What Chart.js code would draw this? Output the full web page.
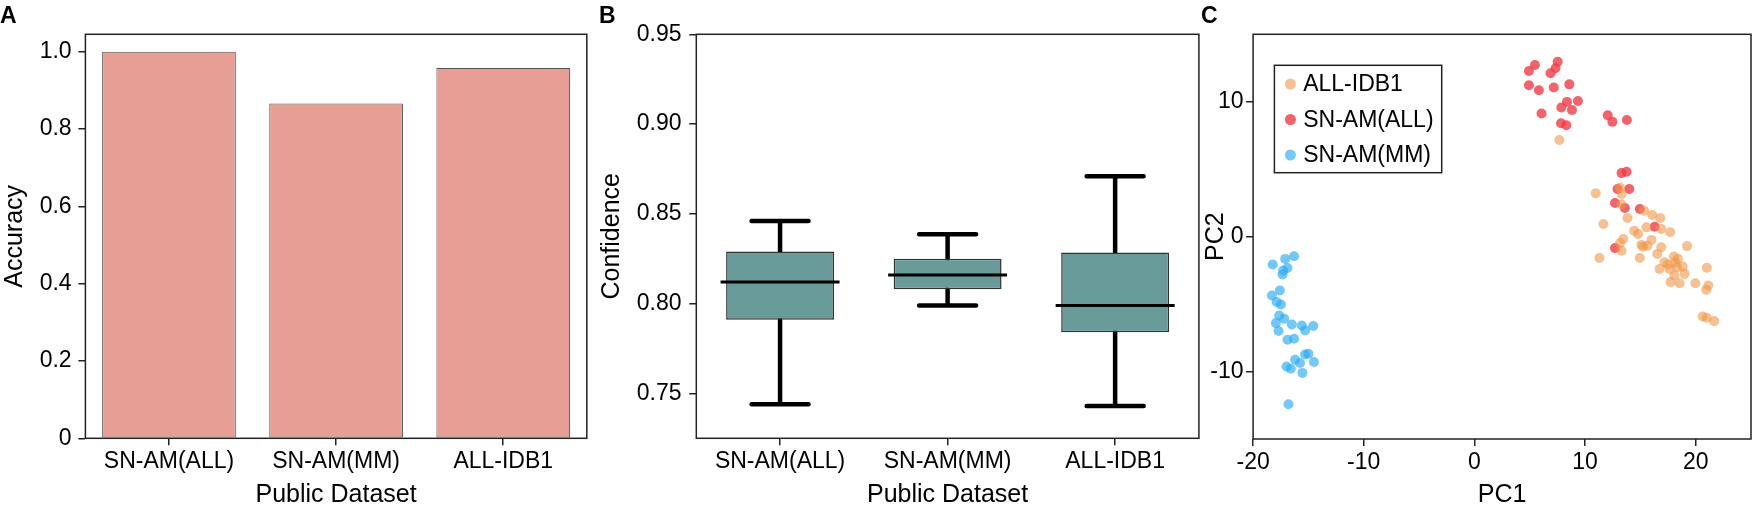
<!DOCTYPE html>
<html>
<head>
<meta charset="utf-8">
<script src="https://cdn.jsdelivr.net/npm/chart.js@4.4.0/dist/chart.umd.min.js"></script>
<style>
  html, body { margin: 0; padding: 0; background: #fff; overflow: hidden; }
  body { width: 1756px; height: 506px; position: relative; }
  canvas { position: absolute; top: 0; }
  .tag { position: absolute; top: 4px; z-index: 2; font: bold 23px/23px "Liberation Sans", Arial, sans-serif; color: #000; }
</style>
</head>
<body>
<canvas id="accuracy" width="596" height="506" style="left:0"></canvas>
<canvas id="confidence" width="605" height="506" style="left:596px"></canvas>
<canvas id="pca" width="556" height="506" style="left:1200px"></canvas>
<div class="tag" style="left:0">A</div>
<div class="tag" style="left:599px">B</div>
<div class="tag" style="left:1201px">C</div>
<script>
// ---- data ----
const datasetNames = ['SN-AM(ALL)', 'SN-AM(MM)', 'ALL-IDB1'];
const accuracy = [1.0, 0.866, 0.958];
const accuracyTicks = [0, 0.2, 0.4, 0.6, 0.8, 1.0];

// confidence box plots
const whiskerLow  = [0.744, 0.799, 0.743];
const boxLow      = [0.791, 0.808, 0.784];
const median      = [0.812, 0.816, 0.799];
const boxHigh     = [0.829, 0.825, 0.8285];
const whiskerHigh = [0.846, 0.8387, 0.871];
const confidenceTicks = [0.75, 0.80, 0.85, 0.90, 0.95];

// PCA scatter, [PC1, PC2]
const idbPoints = [
    [7.68, 7.17], [10.97, 3.21], [13.16, 3.65], [13.3, 3.16], [13.3, 2.4], [11.66, 0.94],
    [13.84, 1.38], [15.34, 1.92], [16.08, 1.6], [16.8, 1.38], [14.44, 0.44], [14.8, 0.2],
    [15.55, 0.69], [16.89, 0.57], [17.7, 0.33], [13.45, -0.17], [13.16, -0.47], [15.1, -0.61],
    [16.0, -0.24], [19.22, -0.7], [13.3, -1.04], [11.3, -1.58], [14.95, -1.58], [15.25, -0.74],
    [15.64, -0.67], [16.89, -0.79], [16.53, -1.28], [17.19, -1.9], [18.03, -1.48], [18.39, -1.65],
    [17.49, -2.07], [18.14, -1.9], [16.74, -2.39], [17.64, -2.39], [18.32, -2.27], [18.83, -2.22],
    [18.09, -2.88], [18.99, -2.76], [17.73, -3.37], [18.54, -3.45], [19.97, -3.45], [21.01, -2.31],
    [21.14, -3.62], [20.96, -3.94], [20.63, -5.92], [21.0, -6.01], [21.67, -6.26]
];
const allPoints = [
    [5.47, 12.73], [4.93, 12.28], [7.53, 12.97], [7.33, 12.48], [6.88, 12.11], [4.93, 11.22],
    [5.83, 10.85], [7.17, 11.05], [8.58, 11.29], [8.37, 9.99], [9.36, 10.06], [7.86, 9.57],
    [8.82, 9.39], [6.07, 9.13], [7.83, 8.41], [8.31, 8.26], [12.05, 9.0], [12.47, 8.51],
    [13.78, 8.65], [13.3, 4.71], [13.75, 4.81], [12.94, 3.53], [14.0, 3.53], [12.71, 2.49],
    [13.6, 2.12], [14.95, 2.05], [16.3, 0.74], [12.71, -0.85]
];
const mmPoints = [
    [-18.23, -2.07], [-17.1, -1.65], [-16.3, -1.45], [-16.89, -2.32], [-17.28, -2.51], [-17.34, -2.81],
    [-18.3, -4.36], [-17.58, -3.99], [-17.87, -4.85], [-17.49, -5.03], [-17.64, -5.84], [-17.19, -6.09],
    [-17.94, -6.41], [-17.7, -7.0], [-16.5, -6.51], [-15.6, -6.58], [-15.3, -6.95], [-14.56, -6.63],
    [-16.89, -7.64], [-16.3, -7.57], [-15.3, -8.73], [-15.0, -8.68], [-16.2, -9.12], [-15.76, -9.36],
    [-14.5, -9.29], [-16.98, -9.62], [-16.59, -9.79], [-15.54, -10.1], [-16.8, -12.43]
];
const pc1Ticks = [-20, -10, 0, 10, 20];
const pc2Ticks = [-10, 0, 10];

// ---- shared styling ----
const FONT = '"Liberation Sans", Arial, sans-serif';
Chart.defaults.font.family = FONT;
Chart.defaults.color = '#000';

const frame = {
    id: 'frame',
    afterDatasetsDraw(chart) {
        const {ctx, chartArea: a} = chart;
        ctx.save();
        ctx.strokeStyle = '#222';
        ctx.lineWidth = 1.5;
        ctx.strokeRect(a.left, a.top, a.right - a.left, a.bottom - a.top);
        ctx.restore();
    }
};

const tickGrid = {drawOnChartArea: false, tickLength: 7, color: '#222', lineWidth: 1.5};
const fixedTicks = values => scale => { scale.ticks = values.map(v => ({value: v})); };

function bottomAxis(text, extra) {
    return Object.assign({
        grid: Object.assign({offset: false}, tickGrid),
        border: {display: false},
        ticks: {padding: 3, font: {size: 23}, maxRotation: 0, autoSkip: false},
        title: {display: true, text: text, font: {size: 25, lineHeight: 1}, padding: {top: 0, bottom: -2}},
        afterFit: s => { s.height = 67.7; }
    }, extra);
}

function leftAxis(text, width, titlePad, labelPad, extra) {
    return Object.assign({
        grid: tickGrid,
        border: {display: false},
        ticks: {padding: labelPad, font: {size: 23}},
        title: {display: true, text: text, font: {size: 25, lineHeight: 1.2}, padding: {top: titlePad, bottom: 0}},
        afterFit: s => { s.width = width; }
    }, extra);
}

const quiet = {legend: {display: false}, tooltip: {enabled: false}};

// ---- A: accuracy bars ----
new Chart(document.getElementById('accuracy'), {
    type: 'bar',
    data: {
        labels: datasetNames,
        datasets: [{
            data: accuracy,
            backgroundColor: '#E79E95',
            borderColor: '#555',
            borderWidth: 1,
            borderSkipped: false,
            barPercentage: 0.8,
            categoryPercentage: 1
        }]
    },
    options: {
        responsive: false,
        animation: false,
        layout: {padding: {top: 34.3, right: 9.2, left: 0, bottom: 0}},
        plugins: quiet,
        scales: {
            x: bottomAxis('Public Dataset', {offset: true}),
            y: leftAxis('Accuracy', 85.4, 0.5, 6.8, {
                min: 0,
                max: 1.045,
                afterBuildTicks: fixedTicks(accuracyTicks),
                ticks: {padding: 6.8, font: {size: 23}, callback: v => v === 0 ? '0' : v.toFixed(1)}
            })
        }
    },
    plugins: [frame]
});

// ---- B: confidence box plots ----
const capHalf = 0.17;
const medianHalf = 0.355;
const whiskerLines = [];
const medianLines = [];
datasetNames.forEach((name, i) => {
    whiskerLines.push(
        {x: i, y: boxHigh[i]}, {x: i, y: whiskerHigh[i]}, {x: i, y: null},
        {x: i - capHalf, y: whiskerHigh[i]}, {x: i + capHalf, y: whiskerHigh[i]}, {x: i, y: null},
        {x: i, y: boxLow[i]}, {x: i, y: whiskerLow[i]}, {x: i, y: null},
        {x: i - capHalf, y: whiskerLow[i]}, {x: i + capHalf, y: whiskerLow[i]}, {x: i, y: null}
    );
    medianLines.push({x: i - medianHalf, y: median[i]}, {x: i + medianHalf, y: median[i]}, {x: i, y: null});
});

new Chart(document.getElementById('confidence'), {
    type: 'bar',
    data: {
        labels: datasetNames,
        datasets: [
            {
                data: datasetNames.map((n, i) => [boxLow[i], boxHigh[i]]),
                backgroundColor: '#689B9A',
                borderColor: '#333',
                borderWidth: 1.5,
                borderSkipped: false,
                grouped: false,
                barPercentage: 0.644,
                categoryPercentage: 1,
                order: 2
            },
            {
                type: 'line',
                xAxisID: 'xl',
                data: whiskerLines,
                borderColor: '#000',
                borderWidth: 4.5,
                borderCapStyle: 'round',
                pointRadius: 0,
                fill: false,
                order: 3
            },
            {
                type: 'line',
                xAxisID: 'xl',
                data: medianLines,
                borderColor: '#000',
                borderWidth: 3,
                pointRadius: 0,
                fill: false,
                order: 1
            }
        ]
    },
    options: {
        responsive: false,
        animation: false,
        layout: {padding: {top: 34.3, right: 2.1, left: 0, bottom: 0}},
        plugins: quiet,
        scales: {
            x: bottomAxis('Public Dataset', {offset: true}),
            // hidden helper axis lined up with the category centres, used for whiskers and medians
            xl: {type: 'linear', display: false, offset: false, grid: {offset: false}, min: -0.5, max: 2.5},
            y: leftAxis('Confidence', 100.3, 1.6, 7.8, {
                min: 0.725,
                max: 0.95,
                afterBuildTicks: fixedTicks(confidenceTicks),
                ticks: {padding: 7.8, font: {size: 23}, callback: v => v.toFixed(2)}
            })
        }
    },
    plugins: [frame]
});

// ---- C: PCA scatter ----
const insetLegend = {
    id: 'insetLegend',
    afterDraw(chart) {
        const {ctx, chartArea: a} = chart;
        const x0 = a.left + 21.3, y0 = a.top + 31, w = 167.3, h = 107.4;
        ctx.save();
        ctx.fillStyle = '#fff';
        ctx.fillRect(x0, y0, w, h);
        ctx.strokeStyle = '#222';
        ctx.lineWidth = 1.5;
        ctx.strokeRect(x0, y0, w, h);
        ctx.font = '23px ' + FONT;
        ctx.textBaseline = 'middle';
        ctx.textAlign = 'left';
        chart.data.datasets.forEach((ds, i) => {
            const y = y0 + 18.7 + i * 35.5;
            ctx.fillStyle = ds.backgroundColor;
            ctx.beginPath();
            ctx.arc(x0 + 16, y, 5.5, 0, Math.PI * 2);
            ctx.fill();
            ctx.fillStyle = '#000';
            ctx.fillText(ds.label, x0 + 28.8, y + 1);
        });
        ctx.restore();
    }
};

const toXY = pts => pts.map(p => ({x: p[0], y: p[1]}));

new Chart(document.getElementById('pca'), {
    type: 'scatter',
    data: {
        datasets: [
            {label: 'ALL-IDB1', data: toXY(idbPoints), backgroundColor: 'rgba(240,150,70,0.6)', order: 1},
            {label: 'SN-AM(ALL)', data: toXY(allPoints), backgroundColor: 'rgba(240,60,70,0.8)', order: 2},
            {label: 'SN-AM(MM)', data: toXY(mmPoints), backgroundColor: 'rgba(40,170,245,0.65)', order: 3}
        ]
    },
    options: {
        responsive: false,
        animation: false,
        elements: {point: {radius: 5, borderWidth: 0}},
        layout: {padding: {top: 34.3, right: 1.4, left: 0, bottom: 0}},
        plugins: quiet,
        scales: {
            x: bottomAxis('PC1', {
                type: 'linear',
                min: -20,
                max: 25,
                afterBuildTicks: fixedTicks(pc1Ticks),
                afterFit: s => { s.height = 67; }
            }),
            y: leftAxis('PC2', 53.1, 1.2, 2.5, {
                min: -15,
                max: 15,
                afterBuildTicks: fixedTicks(pc2Ticks)
            })
        }
    },
    plugins: [frame, insetLegend]
});
</script>
</body>
</html>
